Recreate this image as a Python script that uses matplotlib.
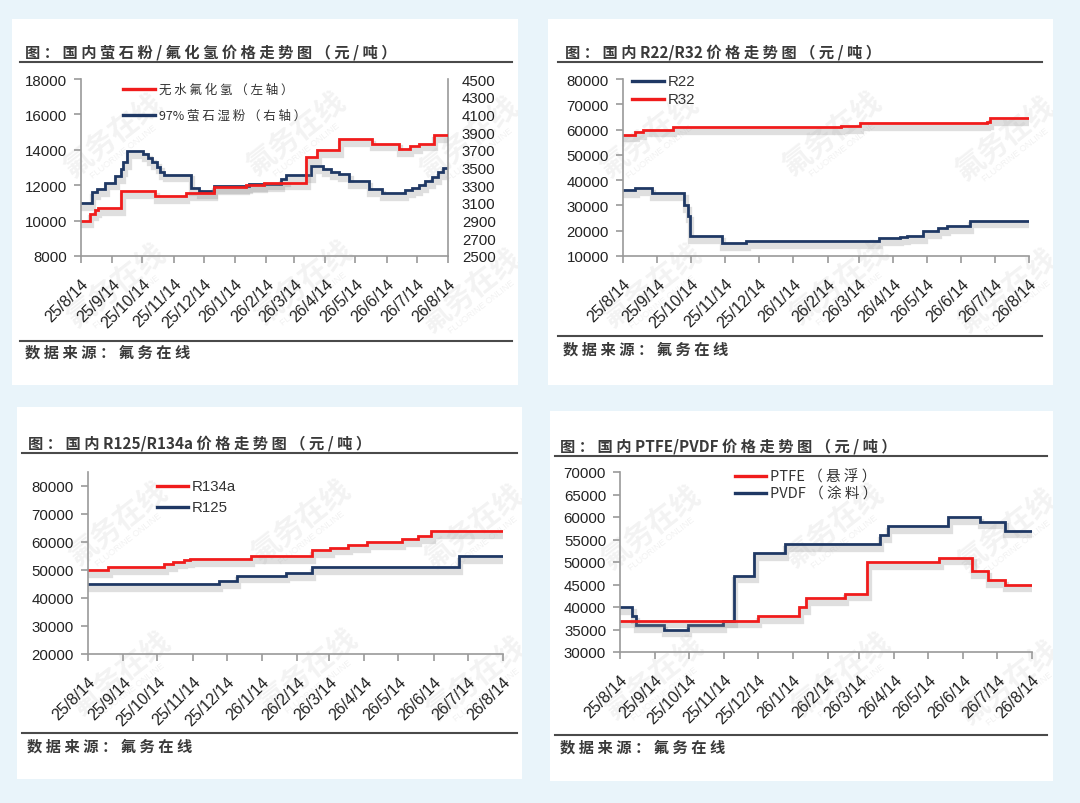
import matplotlib
matplotlib.use('Agg')
import matplotlib.pyplot as plt
import matplotlib.patheffects as pe
from matplotlib.lines import Line2D
from matplotlib.patches import Rectangle
import pandas as pd

# ---------------- data ----------------
tick_labels = ['25/8/14', '25/9/14', '25/10/14', '25/11/14', '25/12/14', '26/1/14', '26/2/14',
               '26/3/14', '26/4/14', '26/5/14', '26/6/14', '26/7/14', '26/8/14']

hf_dates = ['2025-08-14', '2025-08-23', '2025-08-28', '2025-08-31', '2025-09-23', '2025-10-27',
            '2025-11-26', '2025-12-24', '2026-01-25', '2026-02-12', '2026-03-26', '2026-04-06',
            '2026-04-28', '2026-05-30', '2026-06-26', '2026-07-07', '2026-07-16', '2026-07-31']
hf_vals = [10000, 10400, 10600, 10700, 11650, 11400, 11550, 11900, 12000, 12150, 13600, 14000,
           14600, 14350, 14050, 14200, 14350, 14850]

fluor_dates = ['2025-08-14', '2025-08-25', '2025-08-30', '2025-09-07', '2025-09-17', '2025-09-23',
               '2025-09-25', '2025-09-29', '2025-10-15', '2025-10-20', '2025-10-24', '2025-10-29',
               '2025-11-01', '2025-11-05', '2025-12-01', '2025-12-09', '2025-12-24', '2026-01-28',
               '2026-03-01', '2026-03-06', '2026-03-31', '2026-04-12', '2026-04-20', '2026-04-28',
               '2026-05-08', '2026-05-27', '2026-06-09', '2026-07-02', '2026-07-09', '2026-07-16',
               '2026-07-22', '2026-07-29', '2026-08-04', '2026-08-09']
fluor_vals = [3100, 3220, 3260, 3330, 3400, 3480, 3560, 3690, 3650, 3610, 3560, 3510,
              3450, 3420, 3270, 3236, 3290, 3310, 3370, 3410, 3520, 3480, 3450, 3425,
              3350, 3255, 3210, 3245, 3265, 3300, 3350, 3390, 3445, 3500]

r22_dates = ['2025-08-14', '2025-08-25', '2025-09-09', '2025-10-08', '2025-10-11', '2025-10-13',
             '2025-11-11', '2025-12-03', '2026-04-01', '2026-04-20', '2026-04-26', '2026-05-11',
             '2026-05-24', '2026-06-01', '2026-06-22']
r22_vals = [36000, 37000, 35000, 30000, 26000, 18000, 15000, 16000, 17000, 17500, 18000, 20000,
            21000, 22000, 24000]

r32_dates = ['2025-08-14', '2025-08-25', '2025-09-01', '2025-09-28', '2026-02-26', '2026-03-15',
             '2026-07-07', '2026-07-10']
r32_vals = [58000, 59000, 60000, 61000, 61500, 62500, 63000, 64500]

r134a_dates = ['2025-08-14', '2025-09-01', '2025-10-20', '2025-10-28', '2025-11-06', '2025-11-12',
               '2026-01-04', '2026-02-27', '2026-03-15', '2026-03-31', '2026-04-16', '2026-05-17',
               '2026-05-31', '2026-06-12']
r134a_vals = [50000, 51000, 52000, 53000, 53500, 54000, 55000, 57000, 58000, 59000, 60000, 61000,
              62000, 64000]

r125_dates = ['2025-08-14', '2025-12-07', '2025-12-23', '2026-02-04', '2026-02-27', '2026-07-06']
r125_vals = [45000, 46000, 48000, 49000, 51000, 55000]

ptfe_dates = ['2025-08-14', '2025-12-14', '2026-01-20', '2026-01-26', '2026-03-01', '2026-03-21',
              '2026-05-24', '2026-06-22', '2026-07-06', '2026-07-21']
ptfe_vals = [37000, 38000, 40000, 42000, 43000, 50000, 51000, 48000, 46000, 45000]

pvdf_dates = ['2025-08-14', '2025-08-25', '2025-08-28', '2025-09-22', '2025-10-13', '2025-11-13',
              '2025-11-23', '2025-12-11', '2026-01-07', '2026-04-01', '2026-04-08', '2026-06-01',
              '2026-06-29', '2026-07-21']
pvdf_vals = [40000, 38000, 36000, 35000, 36000, 37000, 47000, 52000, 54000, 56000, 58000, 60000,
             59000, 57000]

titles = ['图：国内萤石粉/氟化氢价格走势图（元/吨）',
          '图：国内R22/R32价格走势图（元/吨）',
          '图：国内R125/R134a价格走势图（元/吨）',
          '图：国内PTFE/PVDF价格走势图（元/吨）']
source_text = '数据来源：氟务在线'

# ---------------- setup ----------------
W, H, DPI = 1080, 804, 100
fig = plt.figure(figsize=(W / DPI, H / DPI), dpi=DPI)
fig.patch.set_facecolor('#e9f4fa')

CJK = ['Noto Sans CJK SC', 'DejaVu Sans']
LAT = ['Liberation Sans', 'DejaVu Sans']
RED = '#f01c1c'
BLUE = '#1f3864'
AXC = '#9a9a9a'
TXT = '#222222'

START = pd.Timestamp('2025-08-14')
END = pd.Timestamp('2026-08-14')
tick_dates = pd.date_range(START, periods=len(tick_labels), freq=pd.DateOffset(months=1))


def fx(x):
    return x / W


def fy(y):
    return 1 - y / H


def spaced(s):
    out = s[0]
    for a, b in zip(s, s[1:]):
        if ord(a) > 127 or ord(b) > 127:
            out += ' '
        out += b
    return out


def hline(x0, x1, y, color='#4a4a4a', lw=1.5):
    fig.add_artist(Line2D([fx(x0), fx(x1)], [fy(y), fy(y)], color=color, lw=lw, zorder=1))


def add_ax(x0, y0, x1, y1):
    ax = fig.add_axes([fx(x0), fy(y1), (x1 - x0) / W, (y1 - y0) / H])
    ax.set_facecolor('none')
    return ax


def style_axis(ax, ylim, yticks):
    for s in ['top', 'right']:
        ax.spines[s].set_visible(False)
    for s in ['left', 'bottom']:
        ax.spines[s].set_color(AXC)
        ax.spines[s].set_linewidth(1.2)
    ax.set_xlim(START, END)
    ax.set_xticks(tick_dates)
    ax.set_xticklabels(tick_labels, rotation=45, ha='right', va='top', rotation_mode='anchor',
                       fontsize=11.5, family=LAT, color=TXT)
    ax.tick_params(axis='x', length=5, width=1.2, color=AXC, pad=9)
    ax.set_ylim(*ylim)
    ax.set_yticks(yticks)
    ax.tick_params(axis='y', length=5, width=1.2, color=AXC, pad=5, labelsize=10.8, labelcolor=TXT)
    for lab in ax.get_yticklabels():
        lab.set_family(LAT)


def step_line(ax, dates, vals, color):
    d = list(pd.to_datetime(dates)) + [END]
    v = list(vals) + [vals[-1]]
    ax.step(d, v, where='post', color=color, lw=2.0, solid_joinstyle='miter',
            path_effects=[pe.SimpleLineShadow(offset=(1.0, -3.5), shadow_color='#8c8c8c',
                                              alpha=0.27, linewidth=4.5), pe.Normal()])


def legend_item(x0, x1, y, color, label, cjk=False, fs=10.8):
    fig.add_artist(Line2D([fx(x0), fx(x1)], [fy(y), fy(y)], color=color, lw=2.4, zorder=5))
    fig.text(fx(x1 + 4), fy(y), spaced(label) if cjk else label, ha='left', va='center',
             fontsize=fs, color='#333333', family=CJK if cjk else LAT, zorder=5)


panels = [
    dict(box=(12, 20, 518, 386), title_xy=(25, 53), rule_x=(20, 512), rule_y=(63, 342),
         src_xy=(25, 353), ax=(81, 80, 448, 257)),
    dict(box=(548, 20, 1053, 386), title_xy=(565, 53), rule_x=(558, 1042), rule_y=(63, 337),
         src_xy=(563, 350), ax=(623, 80, 1029, 257)),
    dict(box=(17, 408, 522, 780), title_xy=(28, 444), rule_x=(22, 517), rule_y=(454, 734),
         src_xy=(27, 747), ax=(88, 473, 503, 655)),
    dict(box=(550, 412, 1053, 782), title_xy=(560, 447), rule_x=(555, 1047), rule_y=(457, 736),
         src_xy=(560, 748), ax=(620, 473, 1032, 653)),
]

wm_offsets = [(100, 115), (283, 113), (456, 118), (103, 265), (290, 262), (458, 270)]

axes = []
for i, p in enumerate(panels):
    bx0, by0, bx1, by1 = p['box']
    rect = Rectangle((fx(bx0), fy(by1)), (bx1 - bx0) / W, (by1 - by0) / H,
                     transform=fig.transFigure, facecolor='white', edgecolor='none', zorder=-3)
    fig.add_artist(rect)
    # watermarks
    for ox, oy in wm_offsets:
        cx, cy = bx0 + ox, by0 + oy
        t1 = fig.text(fx(cx), fy(cy), '氟务在线', rotation=38, ha='center', va='center',
                      fontsize=21, fontweight='bold', color='#000000', alpha=0.05,
                      family=CJK, zorder=-2)
        t2 = fig.text(fx(cx + 12), fy(cy + 17), 'FLUORINE ONLINE', rotation=38, ha='center',
                      va='center', fontsize=6.5, color='#000000', alpha=0.06, family=LAT, zorder=-2)
        t1.set_clip_path(rect)
        t2.set_clip_path(rect)
    tx, ty = p['title_xy']
    fig.text(fx(tx), fy(ty), spaced(titles[i]), ha='left', va='center', fontsize=11,
             fontweight='bold', color='#3a3a3a', family=CJK)
    hline(p['rule_x'][0], p['rule_x'][1], p['rule_y'][0])
    hline(p['rule_x'][0], p['rule_x'][1], p['rule_y'][1])
    sx, sy = p['src_xy']
    fig.text(fx(sx), fy(sy), spaced(source_text), ha='left', va='center', fontsize=11,
             fontweight='bold', color='#3a3a3a', family=CJK)
    axes.append(add_ax(*p['ax']))

# Panel 1
ax1 = axes[0]
style_axis(ax1, (8000, 18000), list(range(8000, 18001, 2000)))
ax1r = ax1.twinx()
ax1r.set_facecolor('none')
for s in ['top', 'left', 'bottom']:
    ax1r.spines[s].set_visible(False)
ax1r.spines['right'].set_color(AXC)
ax1r.spines['right'].set_linewidth(1.2)
ax1r.set_ylim(2500, 4500)
ax1r.set_yticks(list(range(2500, 4501, 200)))
ax1r.tick_params(axis='y', length=0, pad=10, labelsize=10.8, labelcolor=TXT)
for lab in ax1r.get_yticklabels():
    lab.set_family(LAT)
step_line(ax1r, fluor_dates, fluor_vals, BLUE)
step_line(ax1, hf_dates, hf_vals, RED)
ax1.set_zorder(ax1r.get_zorder() + 1)
legend_item(123, 155, 90, RED, '无水氟化氢（左轴）', cjk=True, fs=9)
legend_item(123, 155, 116, BLUE, '97%萤石湿粉（右轴）', cjk=True, fs=9)

# Panel 2
ax2 = axes[1]
style_axis(ax2, (10000, 80000), list(range(10000, 80001, 10000)))
step_line(ax2, r32_dates, r32_vals, RED)
step_line(ax2, r22_dates, r22_vals, BLUE)
legend_item(632, 664, 82, BLUE, 'R22')
legend_item(632, 664, 100, RED, 'R32')

# Panel 3
ax3 = axes[2]
style_axis(ax3, (20000, 85000), list(range(20000, 80001, 10000)))
step_line(ax3, r134a_dates, r134a_vals, RED)
step_line(ax3, r125_dates, r125_vals, BLUE)
legend_item(157, 188, 487, RED, 'R134a')
legend_item(157, 188, 508, BLUE, 'R125')

# Panel 4
ax4 = axes[3]
style_axis(ax4, (30000, 70000), list(range(30000, 70001, 5000)))
step_line(ax4, pvdf_dates, pvdf_vals, BLUE)
step_line(ax4, ptfe_dates, ptfe_vals, RED)
legend_item(735, 766, 477, RED, 'PTFE（悬浮）', cjk=True, fs=10.5)
legend_item(735, 766, 494, BLUE, 'PVDF（涂料）', cjk=True, fs=10.5)

fig.savefig('out.png', dpi=DPI, facecolor=fig.get_facecolor())
